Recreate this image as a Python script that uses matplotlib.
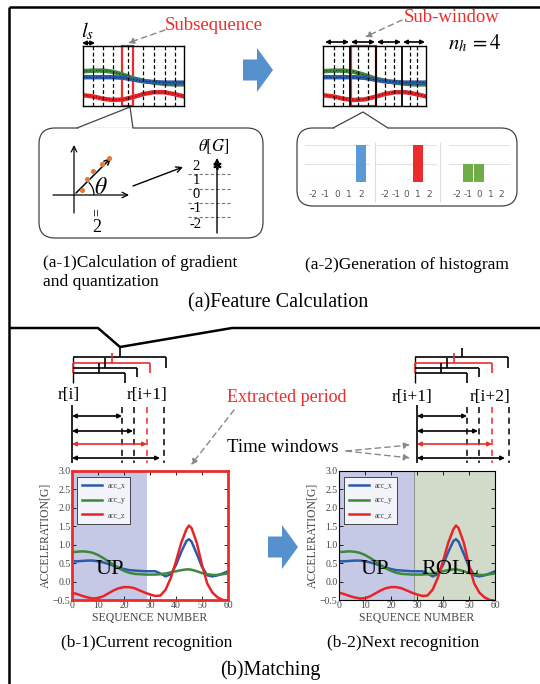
import numpy as np
import matplotlib
matplotlib.use("Agg")
import matplotlib.pyplot as plt
from matplotlib.patches import FancyBboxPatch, Rectangle, FancyArrow, Arc

plt.rcParams['font.family'] = ['Liberation Serif', 'DejaVu Serif']
plt.rcParams['mathtext.fontset'] = 'stix'

# --- data -------------------------------------------------------------
seq = [0, 2, 4, 6, 8, 10, 12, 14, 16, 18, 20, 22, 24, 26, 28, 30, 32, 34, 36,
       38, 40, 42, 44, 45, 46, 48, 50, 52, 54, 56, 58, 60]
acc_x = [0.55, 0.55, 0.56, 0.57, 0.57, 0.55, 0.52, 0.48, 0.43, 0.38, 0.34, 0.31,
         0.30, 0.29, 0.28, 0.28, 0.28, 0.22, 0.14, 0.20, 0.45, 0.80, 1.10, 1.15,
         1.08, 0.75, 0.40, 0.17, 0.14, 0.17, 0.22, 0.28]
acc_y = [0.80, 0.81, 0.82, 0.81, 0.78, 0.72, 0.64, 0.55, 0.45, 0.36, 0.29, 0.24,
         0.21, 0.20, 0.19, 0.19, 0.19, 0.20, 0.22, 0.25, 0.28, 0.31, 0.33, 0.33,
         0.32, 0.28, 0.23, 0.20, 0.18, 0.18, 0.20, 0.22]
acc_z = [-0.30, -0.34, -0.39, -0.43, -0.46, -0.45, -0.40, -0.32, -0.24, -0.18,
         -0.15, -0.15, -0.18, -0.24, -0.30, -0.35, -0.39, -0.38, -0.22, 0.10,
         0.55, 1.05, 1.42, 1.52, 1.45, 1.05, 0.45, -0.05, -0.30, -0.43, -0.50, -0.52]
series_names = ["acc_x", "acc_y", "acc_z"]
series_colors = ["#2a5caa", "#3a8a3a", "#e8242a"]

# little signal picture in (a-1)/(a-2)
thumb_t = [0, 1, 2, 3, 4, 5, 6, 7, 8, 9, 10]
thumb_green = [0.58, 0.59, 0.59, 0.57, 0.52, 0.46, 0.42, 0.39, 0.37, 0.36, 0.36]
thumb_blue = [0.48, 0.48, 0.48, 0.48, 0.47, 0.44, 0.41, 0.40, 0.39, 0.39, 0.39]
thumb_red = [0.18, 0.16, 0.12, 0.10, 0.11, 0.15, 0.20, 0.23, 0.23, 0.20, 0.16]

# histograms of the sub-windows
bins = [-2, -1, 0, 1, 2]
hist_counts = [[0, 0, 0, 0, 2], [0, 0, 0, 2, 0], [0, 1, 1, 0, 0]]
hist_colors = ["#5b9bd5", "#ee2b2b", "#70ad47"]

quant_levels = ["2", "1", "0", "-1", "-2"]

W, H = 540, 684
fig = plt.figure(figsize=(5.4, 6.84), dpi=100)
ax = fig.add_axes([0, 0, 1, 1])
ax.set_xlim(0, W)
ax.set_ylim(H, 0)
ax.axis('off')


def px_axes(x0, y0, x1, y1):
    return fig.add_axes([x0 / W, 1 - y1 / H, (x1 - x0) / W, (y1 - y0) / H])


def line(xs, ys, **kw):
    kw.setdefault('color', 'black')
    kw.setdefault('lw', 1.0)
    ax.plot(xs, ys, solid_capstyle='butt', **kw)


def darrow(x0, x1, y, color='black'):
    ax.annotate('', xy=(x1, y), xytext=(x0, y),
                arrowprops=dict(arrowstyle='<|-|>', color=color, lw=1.2,
                                mutation_scale=6, shrinkA=0, shrinkB=0))


def grey_arrow(p0, p1):
    ax.annotate('', xy=p1, xytext=p0,
                arrowprops=dict(arrowstyle='-|>', color='#888888', lw=1.0,
                                linestyle=(0, (4, 3)), mutation_scale=9,
                                shrinkA=0, shrinkB=0))


def block_arrow(x0, y, length):
    ax.add_patch(FancyArrow(x0, y, length, 0, width=21, head_width=44,
                            head_length=16, length_includes_head=True,
                            color='#5591cc', lw=0))


# --- frame -------------------------------------------------------------
line([9, 540], [7, 7], lw=1.8)
line([9, 9], [7, 684], lw=1.8)
line([9, 98, 120, 232, 540], [328, 328, 347, 328, 328], lw=1.8)


# --- signal thumbnails -----------------------------------------------
def thumbnail(x0, x1, dashed, solid, red_box):
    a = px_axes(x0, 46, x1, 106)
    a.set_xlim(0, 10)
    a.set_ylim(0, 1)
    a.set_xticks([])
    a.set_yticks([])
    for s in a.spines.values():
        s.set_linewidth(1.0)
    for vals, c in ((thumb_green, series_colors[1]), (thumb_blue, series_colors[0]),
                    (thumb_red, series_colors[2])):
        a.plot(thumb_t, vals, color=c, lw=3.2)
        a.plot(thumb_t, vals, color='black', lw=0.6, ls=(0, (1, 3)))
    for d in dashed:
        a.axvline((d - x0) / (x1 - x0) * 10, color='black', lw=0.9, ls=(0, (3, 2)))
    for s in solid:
        a.axvline((s - x0) / (x1 - x0) * 10, color='black', lw=1.3)
    rx0, rx1 = red_box
    a.add_patch(Rectangle(((rx0 - x0) / (x1 - x0) * 10, 0.005),
                          (rx1 - rx0) / (x1 - x0) * 10, 0.99,
                          fill=False, ec='#ee2b2b', lw=1.6, clip_on=False))


thumbnail(83, 184, [92.7, 102.7, 112.7, 127.7, 143.3, 154, 164.7, 175.3], [], (122.3, 132.7))
thumbnail(323, 426, [334, 343, 358, 368, 385, 394, 410, 417], [350, 376, 402], (350.5, 376))

ax.text(88, 31, r'$l_s$', fontsize=15, ha='center', va='center')
darrow(82, 95, 43)
ax.text(214, 25, 'Subsequence', color='#ee2b2b', fontsize=13.5, ha='center', va='center')
grey_arrow((165, 30), (128, 43))

for a0, a1 in ((325, 349), (351, 375), (377, 401), (403, 425)):
    darrow(a0, a1, 42)
ax.text(452, 18, 'Sub-window', color='#ee2b2b', fontsize=13.5, ha='center', va='center')
grey_arrow((402, 20), (365, 37))
ax.text(475, 43, r'$n_h\,=4$', fontsize=15, ha='center', va='center')

block_arrow(243, 70, 30)


# --- callouts ----------------------------------------------------------
def callout(x0, y0, x1, y1, b0, apex, b1):
    ax.add_patch(FancyBboxPatch((x0, y0), x1 - x0, y1 - y0,
                                boxstyle='round,pad=0,rounding_size=16',
                                fc='white', ec='#444444', lw=0.9))
    line([b0 + 1, b1 - 1], [y0, y0], color='white', lw=2)
    line([b0, apex[0], b1], [y0, apex[1], y0], color='#444444', lw=0.9)


callout(39, 128, 263, 238, 77, (130, 107), 133)
callout(297, 128, 517, 206, 333, (363, 112), 388)

# (a-1) gradient sketch
ax.annotate('', xy=(74, 145), xytext=(74, 213),
            arrowprops=dict(arrowstyle='->', lw=0.9, shrinkA=0, shrinkB=0))
ax.annotate('', xy=(129, 195), xytext=(53, 195),
            arrowprops=dict(arrowstyle='->', lw=0.9, shrinkA=0, shrinkB=0))
ax.annotate('', xy=(111, 158), xytext=(76, 193),
            arrowprops=dict(arrowstyle='->', lw=1.1, shrinkA=0, shrinkB=0))
ax.scatter([82, 87, 93, 102, 109], [190, 179, 171, 164, 158], s=7, color='#e07b39',
           zorder=3)
ax.add_patch(Arc((76, 195), 36, 36, theta1=-45, theta2=0, lw=0.9))
ax.text(101, 188, r'$\theta$', fontsize=17, ha='center', va='center')
ax.text(97, 212, '=', fontsize=10, rotation=90, ha='center', va='center')
ax.text(97, 227, '2', fontsize=13, ha='center', va='center')
ax.annotate('', xy=(183, 167), xytext=(133, 186),
            arrowprops=dict(arrowstyle='->', lw=1.0, shrinkA=0, shrinkB=0))
ax.text(214, 147, r'$\theta[G]$', fontsize=12, ha='center', va='center')
ax.annotate('', xy=(217, 158), xytext=(217, 233),
            arrowprops=dict(arrowstyle='->', lw=1.0, shrinkA=0, shrinkB=0))
for yy in (174, 189, 203, 217):
    line([188, 232], [yy, yy], color='#777777', lw=0.8, ls=(0, (3, 2)))
for lab, yy in zip(quant_levels, (166, 181, 195, 209, 224)):
    ax.text(196, yy, lab, fontsize=10.5, ha='center', va='center')
ax.plot([217], [165], marker=(6, 2, 0), ms=6, color='black', mew=1.2)

ax.text(43, 263, '(a-1)Calculation of gradient', fontsize=12.5, va='center')
ax.text(43, 282, 'and quantization', fontsize=12.5, va='center')

# (a-2) histograms
for (hx0, hx1), counts, col in zip(((305, 370), (377, 437), (449, 510)),
                                   hist_counts, hist_colors):
    h = px_axes(hx0, 145, hx1, 182)
    h.bar(bins, counts, width=0.88, color=col, zorder=2)
    h.set_xlim(-2.7, 2.75)
    h.set_ylim(0, 2)
    h.set_yticks([0, 1, 2])
    h.set_yticklabels([])
    h.tick_params(axis='y', length=0)
    h.grid(axis='y', color='#e2e2e2', lw=0.8, zorder=0)
    h.set_xticks(bins)
    h.set_xticklabels([str(b) for b in bins], fontsize=6.5, color='#595959',
                      family='DejaVu Sans')
    h.tick_params(axis='x', length=0, pad=6)
    for s in h.spines.values():
        s.set_visible(False)
    h.patch.set_alpha(0)
for sx in (375, 440):
    line([sx, sx], [142, 202], color='#dddddd', lw=0.8)

ax.text(407, 265, '(a-2)Generation of histogram', fontsize=12.5, ha='center', va='center')
ax.text(278, 303, '(a)Feature Calculation', fontsize=14.5, ha='center', va='center')


# --- (b) brackets and time windows ------------------------------------
def tree(x0, top_stem):
    specs = [(93, 357, 368, 47, 'black'), (77, 363, 373, 39, '#ee2b2b'),
             (64, 368, 377, 32, 'black'), (52, 373, 383, 26, 'black')]
    line([x0, x0], [357, 383])
    for k, (dx, yy, yb, sx, c) in enumerate(specs):
        line([x0, x0 + dx], [yy, yy], color=c, lw=1.2)
        line([x0 + dx, x0 + dx], [yy, yb], color=c, lw=1.2)
        if c != 'black':
            line([x0, x0], [yy, yb], color=c, lw=1.2)
        ystem = top_stem if k == 0 else yy - 10
        line([x0 + sx, x0 + sx], [ystem, yy], color=c, lw=1.2)


def windows(x0):
    line([x0, x0], [405, 463], lw=1.2)
    for dx, c in ((50, 'black'), (62, 'black'), (75, '#ee2b2b'), (92, 'black')):
        line([x0 + dx, x0 + dx], [407, 463], color=c, lw=1.1, ls=(0, (4, 3)))
    for dx, yy, c in ((50, 416, 'black'), (61, 431, 'black'), (75, 444, '#ee2b2b'),
                      (88, 458, 'black')):
        darrow(x0, x0 + dx, yy, color=c)


tree(73, 347)
tree(415, 348)
windows(72)
windows(417)
ax.text(69, 395, 'r[i]', fontsize=12.5, ha='center', va='center')
ax.text(147, 395, 'r[i+1]', fontsize=12.5, ha='center', va='center')
ax.text(412, 397, 'r[i+1]', fontsize=12.5, ha='center', va='center')
ax.text(490, 397, 'r[i+2]', fontsize=12.5, ha='center', va='center')

ax.text(287, 398, 'Extracted period', color='#ee2b2b', fontsize=13, ha='center', va='center')
grey_arrow((234, 410), (191, 465))
ax.text(283, 448, 'Time windows', fontsize=13.5, ha='center', va='center')
grey_arrow((346, 451), (410, 445))
grey_arrow((346, 451), (410, 458))


# --- acceleration charts ------------------------------------------------
def accel_chart(x0, x1, spans, labels, red_frame):
    a = px_axes(x0, 471, x1, 600)
    for (s0, s1, c) in spans:
        a.axvspan(s0, s1, color=c, lw=0)
    if len(spans) > 1:
        a.axvline(spans[0][1], color='#999999', lw=0.8)
    for vals, name, c in zip((acc_x, acc_y, acc_z), series_names, series_colors):
        a.plot(seq, vals, color=c, lw=1.8, label=name)
    a.set_xlim(0, 60)
    a.set_ylim(-0.5, 3.0)
    a.set_xticks(range(0, 61, 10))
    a.set_yticks(np.arange(-0.5, 3.01, 0.5))
    a.set_yticklabels(['\u22120.5', '0.0', '0.5', '1.0', '1.5', '2.0', '2.5', '3.0'])
    a.tick_params(direction='in', top=True, right=True, length=3, width=0.6,
                  labelsize=7, labelcolor='#444444', pad=1)
    a.set_xlabel('SEQUENCE NUMBER', fontsize=8.5, color='#444444', labelpad=1)
    a.set_ylabel('ACCELERATION[G]', fontsize=8.5, color='#444444', labelpad=1)
    for (tx, txt) in labels:
        a.text(tx, 0.33, txt, fontsize=16, ha='center', va='center')
    leg = a.legend(loc='upper left', fontsize=5.5, frameon=True, fancybox=False,
                   handlelength=2.6, borderpad=0.6, labelspacing=0.9,
                   bbox_to_anchor=(0.01, 0.985))
    leg.get_frame().set_edgecolor('black')
    leg.get_frame().set_linewidth(0.6)
    for t in leg.get_texts():
        t.set_color('#444444')
    for s in a.spines.values():
        if red_frame:
            s.set_color('#ee2b2b')
            s.set_linewidth(2.0)
        else:
            s.set_linewidth(0.8)
    return a


accel_chart(72, 228, [(0, 29, '#c5c9e6')], [(14.5, 'UP')], True)
accel_chart(339, 495, [(0, 29, '#c5c9e6'), (29, 60, '#d2dbc9')],
            [(13.8, 'UP'), (42.7, 'ROLL')], False)

block_arrow(268, 547, 30)

ax.text(147, 643, '(b-1)Current recognition', fontsize=12.5, ha='center', va='center')
ax.text(403, 643, '(b-2)Next recognition', fontsize=12.5, ha='center', va='center')
ax.text(270, 670, '(b)Matching', fontsize=14.5, ha='center', va='center')

fig.savefig('out.png', dpi=100)
